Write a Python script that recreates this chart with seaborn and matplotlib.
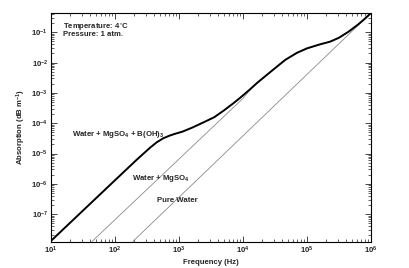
import numpy as np
import pandas as pd
import matplotlib
matplotlib.use("Agg")
import matplotlib.pyplot as plt
import seaborn as sns

# Frequency (Hz) and absorption (dB/m)
freq_borate = [10, 31.6, 100, 219, 282, 355, 447, 562, 708, 891, 1122, 1585,
               2371, 3548, 5012, 7079, 8913, 12589, 16596, 28184, 45709,
               69183, 100000, 158489, 229087, 316228, 446684, 630957,
               794328, 1000000]
abs_borate = [1.32e-8, 1.32e-7, 1.32e-6, 6.3e-6, 1.02e-5, 1.58e-5, 2.34e-5,
              3.16e-5, 3.89e-5, 4.57e-5, 5.25e-5, 7.08e-5, 1.05e-4, 1.58e-4,
              2.63e-4, 4.57e-4, 6.76e-4, 1.26e-3, 2.14e-3, 5.37e-3, 1.23e-2,
              2.09e-2, 2.95e-2, 3.98e-2, 4.9e-2, 6.61e-2, 0.105, 0.182,
              0.275, 0.4325]

freq_mgso4 = [43.7, 10000, 12589, 16596, 28184, 45709, 69183, 100000, 158489,
              229087, 316228, 446684, 630957, 794328, 1000000]
abs_mgso4 = [1.26e-8, 6.6e-4, 1.2e-3, 2.08e-3, 5.3e-3, 1.21e-2, 2.06e-2,
             2.9e-2, 3.93e-2, 4.85e-2, 6.55e-2, 0.104, 0.18, 0.273, 0.4325]

freq_pure = [190, 1000000]
abs_pure = [1.26e-8, 0.4325]

x_ticks = [1e1, 1e2, 1e3, 1e4, 1e5, 1e6]
x_ticklabels = ["10$^{1}$", "10$^{2}$", "10$^{3}$", "10$^{4}$", "10$^{5}$", "10$^{6}$"]
y_ticks = [1e-7, 1e-6, 1e-5, 1e-4, 1e-3, 1e-2, 1e-1]
y_ticklabels = ["10$^{-7}$", "10$^{-6}$", "10$^{-5}$", "10$^{-4}$", "10$^{-3}$", "10$^{-2}$", "10$^{-1}$"]

sns.set_style("ticks")
plt.rcParams["font.family"] = ["Liberation Sans", "DejaVu Sans"]
plt.rcParams["mathtext.default"] = "regular"
plt.rcParams["axes.unicode_minus"] = False

FS = 5.6

fig = plt.figure(figsize=(4.09, 2.68), dpi=100)
ax = fig.add_axes([51/409, 1-241.5/268, 320/409, 228.5/268])
ax.set_xscale("log")
ax.set_yscale("log")

df_p = pd.DataFrame({"f": freq_pure, "a": abs_pure})
df_m = pd.DataFrame({"f": freq_mgso4, "a": abs_mgso4})
df_b = pd.DataFrame({"f": freq_borate, "a": abs_borate})
sns.lineplot(data=df_p, x="f", y="a", ax=ax, color="#8a8a8a", lw=0.6, sort=False)
sns.lineplot(data=df_m, x="f", y="a", ax=ax, color="#8a8a8a", lw=0.6, sort=False)
sns.lineplot(data=df_b, x="f", y="a", ax=ax, color="black", lw=1.4, sort=False)

ax.set_xlim(10, 1e6)
ax.set_ylim(1.26e-8, 0.4325)
ax.set_xticks(x_ticks)
ax.set_xticklabels(x_ticklabels, fontsize=FS, fontweight="bold")
ax.set_yticks(y_ticks)
ax.set_yticklabels(y_ticklabels, fontsize=FS, fontweight="bold")
ax.xaxis.set_minor_locator(matplotlib.ticker.LogLocator(base=10, subs=np.arange(2, 10), numticks=20))
ax.yaxis.set_minor_locator(matplotlib.ticker.LogLocator(base=10, subs=np.arange(2, 10), numticks=20))
ax.xaxis.set_minor_formatter(matplotlib.ticker.NullFormatter())
ax.yaxis.set_minor_formatter(matplotlib.ticker.NullFormatter())
ax.tick_params(which="major", direction="in", length=4, width=0.6, top=True, right=True, pad=2)
ax.tick_params(which="minor", direction="in", length=2, width=0.5, top=True, right=True)
for s in ax.spines.values():
    s.set_linewidth(0.8)
    s.set_color("black")

ax.set_xlabel("Frequency (Hz)", fontsize=FS, fontweight="bold")
ax.set_ylabel("Absorption (dB m$^{-1}$)", fontsize=FS, fontweight="bold")
ax.xaxis.set_label_coords(0.5, -0.077)
ax.yaxis.set_label_coords(-0.072, 0.5)

def px(x, y):
    return (x / 409, 1 - y / 268)

fig.text(*px(63, 27), "Temperature: 4$^{\\circ}$C", fontsize=FS, fontweight="bold", va="center")
fig.text(*px(63, 35), "Pressure: 1 atm.", fontsize=FS, fontweight="bold", va="center")
fig.text(*px(72, 134), "Water + MgSO$_4$ + B(OH)$_3$", fontsize=FS, fontweight="bold", va="center")
fig.text(*px(132, 179), "Water + MgSO$_4$", fontsize=FS, fontweight="bold", va="center")
fig.text(*px(157, 201), "Pure Water", fontsize=FS, fontweight="bold", va="center")

fig.savefig("out.png", dpi=100, facecolor="white")
